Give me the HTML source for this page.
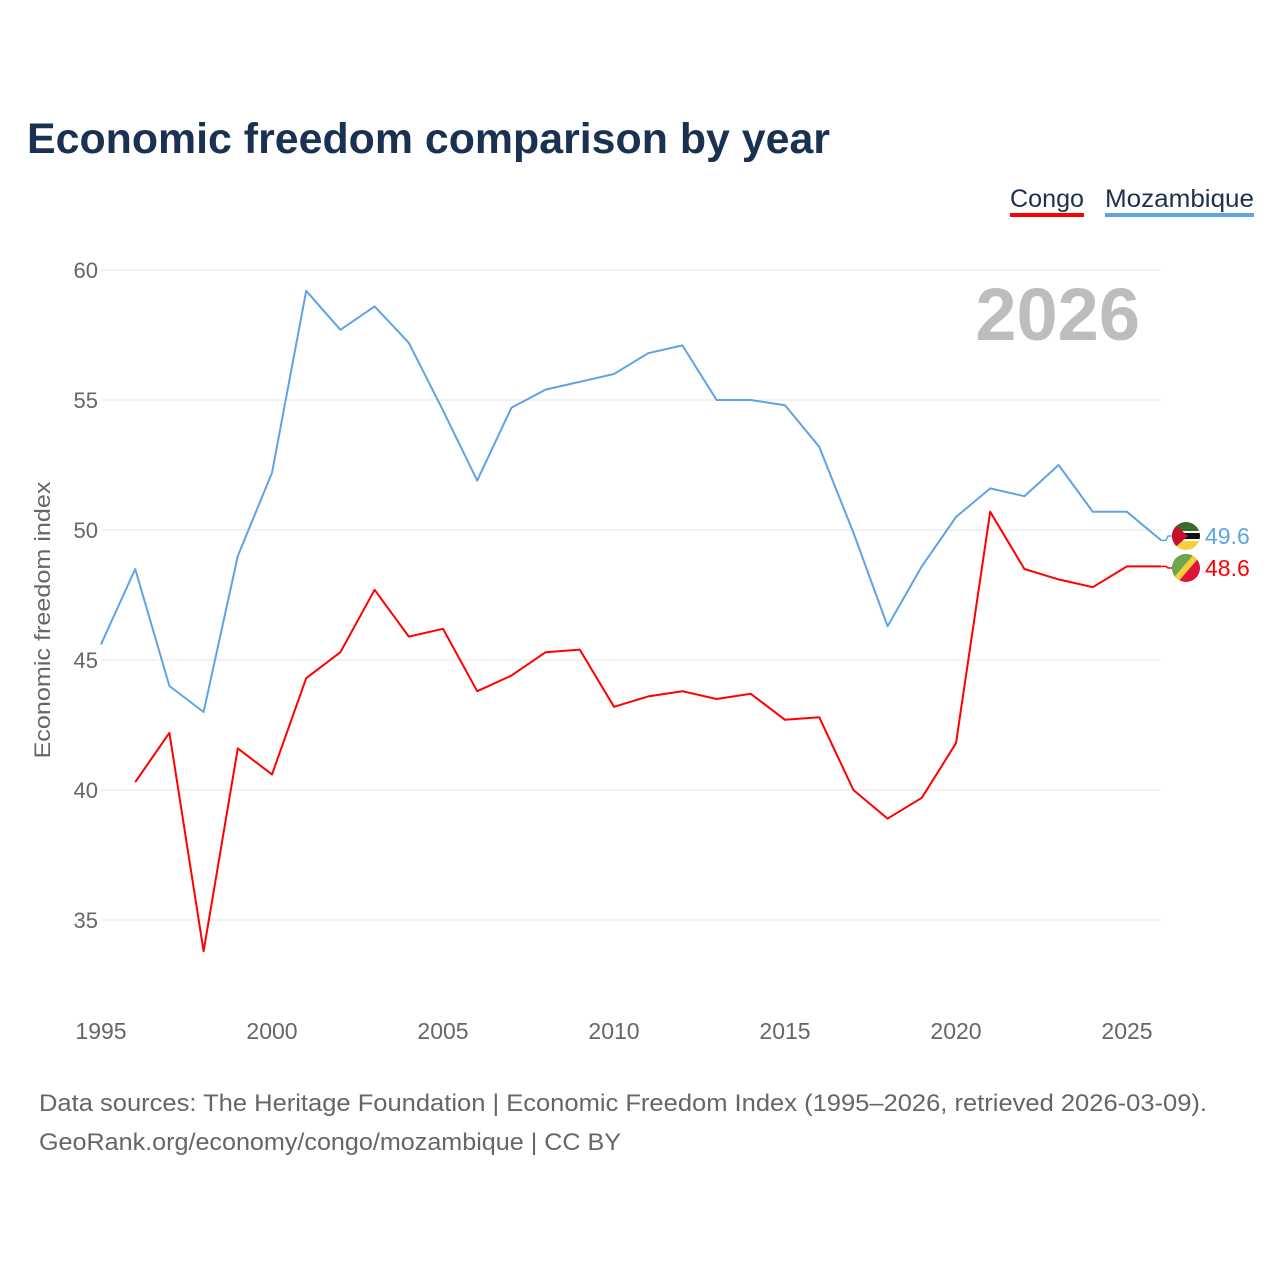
<!DOCTYPE html>
<html><head><meta charset="utf-8"><style>
body{margin:0;background:#fff;font-family:"Liberation Sans",sans-serif}
#wrap{position:relative;width:1280px;height:1280px;overflow:hidden}
</style></head><body>
<div id="wrap">
<svg id="svg" width="1280" height="1280">
<text x="27" y="153" font-size="43" font-weight="bold" fill="#1b3152" textLength="803" lengthAdjust="spacingAndGlyphs">Economic freedom comparison by year</text>
<g><text x="1010" y="207" font-size="25" fill="#1b3152" textLength="74" lengthAdjust="spacingAndGlyphs">Congo</text><rect x="1010" y="213" width="74" height="4" fill="#ff0000"/></g>
<g><text x="1105" y="207" font-size="25" fill="#1b3152" textLength="149" lengthAdjust="spacingAndGlyphs">Mozambique</text><rect x="1105" y="213" width="149" height="4" fill="#5fa3e6"/></g>
<text x="1140" y="340" font-size="74" font-weight="bold" fill="#bdbdbd" text-anchor="end">2026</text>
<text transform="translate(50,620) rotate(-90)" font-size="22" fill="#666" text-anchor="middle" textLength="277" lengthAdjust="spacingAndGlyphs">Economic freedom index</text>
<g id="grid"></g><g id="lines"></g>
<g>
<clipPath id="c1"><circle cx="1186" cy="536" r="14"/></clipPath>
<g clip-path="url(#c1)"><rect x="1172" y="522" width="28" height="10" fill="#3c6a2c"/><rect x="1172" y="531" width="28" height="10" fill="#111"/><rect x="1172" y="531" width="28" height="2" fill="#fff"/><rect x="1172" y="539" width="28" height="2" fill="#fff"/><rect x="1172" y="541" width="28" height="9" fill="#f5cf3c"/><polygon points="1172,522 1188,536 1172,550" fill="#c8102e"/></g></g>
<g>
<clipPath id="c2"><circle cx="1186" cy="568" r="14"/></clipPath>
<g clip-path="url(#c2)"><rect x="1172" y="554" width="28" height="28" fill="#dc143c"/><polygon points="1172,554 1194,554 1172,580" fill="#6aa84f"/><polygon points="1194,554 1202,554 1178,582 1170,582" fill="#f5cf3c"/></g></g>
<text x="1205" y="544" font-size="23" fill="#5fa3e6">49.6</text>
<text x="1205" y="576" font-size="23" fill="#ff0000">48.6</text>
<text x="39" y="1111" font-size="24" fill="#666" textLength="1168" lengthAdjust="spacingAndGlyphs">Data sources: The Heritage Foundation | Economic Freedom Index (1995–2026, retrieved 2026-03-09).</text>
<text x="39" y="1150" font-size="24" fill="#666" textLength="582" lengthAdjust="spacingAndGlyphs">GeoRank.org/economy/congo/mozambique | CC BY</text>
</svg></div>
<script>
const years=[1995,1996,1997,1998,1999,2000,2001,2002,2003,2004,2005,2006,2007,2008,2009,2010,2011,2012,2013,2014,2015,2016,2017,2018,2019,2020,2021,2022,2023,2024,2025,2026];
const mozambique=[45.6,48.5,44.0,43.0,49.0,52.2,59.2,57.7,58.6,57.2,54.6,51.9,54.7,55.4,55.7,56.0,56.8,57.1,55.0,55.0,54.8,53.2,49.9,46.3,48.6,50.5,51.6,51.3,52.5,50.7,50.7,49.6];
const congo=[null,40.3,42.2,33.8,41.6,40.6,44.3,45.3,47.7,45.9,46.2,43.8,44.4,45.3,45.4,43.2,43.6,43.8,43.5,43.7,42.7,42.8,40.0,38.9,39.7,41.8,50.7,48.5,48.1,47.8,48.6,48.6];
const yTicks=[35,40,45,50,55,60];
const xTicks=[1995,2000,2005,2010,2015,2020,2025];
const NS="http://www.w3.org/2000/svg";
const X=v=>101+(v-1995)*34.2, Y=v=>270+(60-v)*26;
const grid=document.getElementById('grid'), lines=document.getElementById('lines');
function mk(tag,attrs,parent){const e=document.createElementNS(NS,tag);for(const k in attrs)e.setAttribute(k,attrs[k]);parent.appendChild(e);return e;}
yTicks.forEach(t=>{
 const l=mk('line',{x1:101,x2:1161,y1:Y(t),y2:Y(t),stroke:'#e6e6e6','stroke-width':1},grid);
 
 
 const tx=mk('text',{x:98,y:Y(t)+8,'font-size':22,fill:'#666','text-anchor':'end'},grid);tx.textContent=t;
 
 
});
xTicks.forEach(t=>{
 const tx=mk('text',{x:X(t),y:1039,'font-size':23,fill:'#666','text-anchor':'middle'},grid);tx.textContent=t;
 
 
});
function series(vals,color,name,flagY){
 let d='';vals.forEach((v,i)=>{if(v==null)return;d+=(d?'L':'M')+X(years[i])+','+Y(v);});
 const p=mk('path',{d:d,fill:'none',stroke:color,'stroke-width':2,'stroke-linejoin':'round'},lines);
 
 
 const last=vals[vals.length-1];
 const l=mk('path',{d:'M'+X(2026)+','+Y(last)+'L1166,'+Y(last)+'L1168,'+flagY+'L1172,'+flagY,fill:'none',stroke:color,'stroke-width':1.5},lines);
 
 
}
series(mozambique,'#5fa3e6','mozambique',536);
series(congo,'#ff0000','congo',568);
</script>
</body></html>
